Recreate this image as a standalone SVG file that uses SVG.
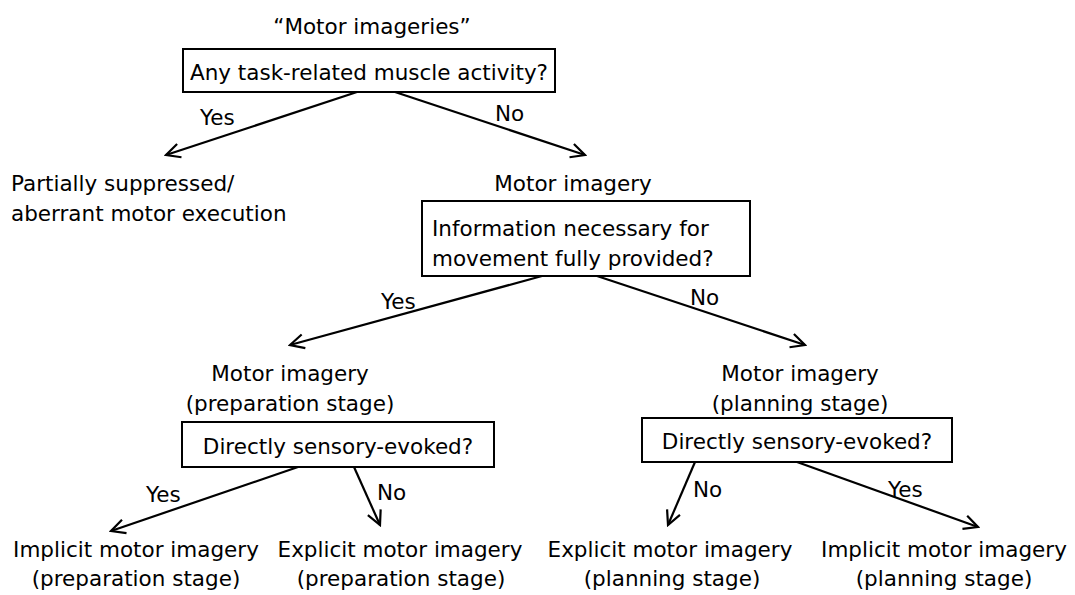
<svg xmlns="http://www.w3.org/2000/svg" width="1075" height="595" viewBox="0 0 1075 595">
<style>
text{font-family:"DejaVu Sans","Noto Sans CJK JP",sans-serif;font-size:21.5px;fill:#000}
.c{text-anchor:middle}
.box{fill:#fff;stroke:#000;stroke-width:2}
.ln{stroke:#000;stroke-width:2.2;fill:none;marker-end:url(#ah)}
</style>
<defs>
<marker id="ah" viewBox="0 0 20 20" refX="18" refY="10" markerWidth="20" markerHeight="20" markerUnits="userSpaceOnUse" orient="auto">
<path d="M4,3 L18,10 L4,17" fill="none" stroke="#000" stroke-width="2.2"/>
</marker>
</defs>
<rect width="1075" height="595" fill="#fff"/>
<g id="connectors">
<line class="ln" x1="357" y1="92" x2="166" y2="155"/>
<line class="ln" x1="395" y1="92" x2="585" y2="155"/>
<line class="ln" x1="542" y1="276" x2="290" y2="345"/>
<line class="ln" x1="597" y1="276" x2="805" y2="345"/>
<line class="ln" x1="298" y1="467" x2="111" y2="531"/>
<line class="ln" x1="354" y1="467" x2="380" y2="525"/>
<line class="ln" x1="695" y1="462" x2="668" y2="525"/>
<line class="ln" x1="797" y1="462" x2="978" y2="527"/>
<text x="200" y="125">Yes</text>
<text x="495" y="121">No</text>
<text x="381" y="309">Yes</text>
<text x="690" y="305">No</text>
<text x="146" y="502">Yes</text>
<text x="377" y="500">No</text>
<text x="693" y="497">No</text>
<text x="888" y="497">Yes</text>
</g>
<g id="title"><text class="c" x="372" y="34">“Motor imageries”</text></g>
<g id="q1">
<rect class="box" x="183" y="49" width="372" height="43"/>
<text class="c" x="369" y="80">Any task-related muscle activity?</text>
</g>
<g id="partial">
<text x="11" y="191">Partially suppressed/</text>
<text x="11" y="221">aberrant motor execution</text>
</g>
<g id="mi"><text class="c" x="573" y="191">Motor imagery</text></g>
<g id="q2">
<rect class="box" x="422" y="201" width="328" height="75"/>
<text x="432" y="236">Information necessary for</text>
<text x="432" y="266">movement fully provided?</text>
</g>
<g id="prep">
<text class="c" x="290" y="381">Motor imagery</text>
<text class="c" x="290" y="411">(preparation stage)</text>
</g>
<g id="plan">
<text class="c" x="800" y="381">Motor imagery</text>
<text class="c" x="800" y="411">(planning stage)</text>
</g>
<g id="q3">
<rect class="box" x="182" y="422" width="312" height="45"/>
<text class="c" x="338" y="454">Directly sensory-evoked?</text>
</g>
<g id="q4">
<rect class="box" x="642" y="418" width="310" height="44"/>
<text class="c" x="797" y="449">Directly sensory-evoked?</text>
</g>
<g id="imp-prep">
<text class="c" x="136" y="557">Implicit motor imagery</text>
<text class="c" x="136" y="586">(preparation stage)</text>
</g>
<g id="exp-prep">
<text class="c" x="400" y="557">Explicit motor imagery</text>
<text class="c" x="401" y="586">(preparation stage)</text>
</g>
<g id="exp-plan">
<text class="c" x="670" y="557">Explicit motor imagery</text>
<text class="c" x="672" y="586">(planning stage)</text>
</g>
<g id="imp-plan">
<text class="c" x="944" y="557">Implicit motor imagery</text>
<text class="c" x="944" y="586">(planning stage)</text>
</g>
</svg>
